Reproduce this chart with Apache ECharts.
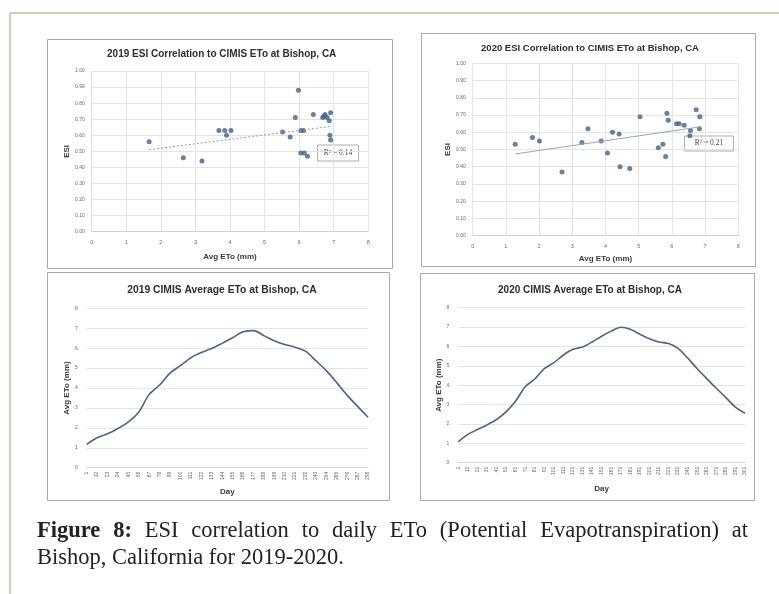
<!DOCTYPE html>
<html>
<head>
<meta charset="utf-8">
<script src="https://cdn.jsdelivr.net/npm/echarts@6/dist/echarts.min.js"></script>
<style>
  body { margin: 0; background: #fff; }
  #wrap { position: relative; width: 779px; height: 594px; overflow: hidden; }
  #chart { position: absolute; left: 0; top: 0; width: 779px; height: 594px; }
  #caption {
    position: absolute; left: 37px; top: 516px; width: 711px;
    font-family: "Liberation Serif", serif; font-size: 22.5px; line-height: 27px;
    color: #222; text-align: justify;
  }
</style>
</head>
<body>
<div id="wrap">
  <div id="chart"></div>
  <div id="caption"><b>Figure 8:</b> ESI correlation to daily ETo (Potential Evapotranspiration) at Bishop, California for 2019-2020.</div>
</div>
<script>
// ESI vs average ETo scatter points [ETo mm, ESI]
const esi2019 = [
  [1.66, 0.56], [2.65, 0.46], [3.19, 0.44], [3.68, 0.63], [3.85, 0.63],
  [3.90, 0.60], [4.03, 0.63], [5.52, 0.62], [5.74, 0.59], [5.89, 0.71],
  [5.98, 0.88], [6.05, 0.63], [6.13, 0.63], [6.05, 0.49], [6.15, 0.49],
  [6.24, 0.47], [6.41, 0.73], [6.68, 0.71], [6.75, 0.73], [6.81, 0.71],
  [6.87, 0.69], [6.91, 0.74], [6.89, 0.60], [6.91, 0.57], [6.72, 0.72]
];
const esi2020 = [
  [1.28, 0.53], [1.80, 0.57], [2.01, 0.55], [2.69, 0.37], [3.29, 0.54],
  [3.47, 0.62], [3.87, 0.55], [4.06, 0.48], [4.21, 0.60], [4.41, 0.59],
  [4.44, 0.40], [4.73, 0.39], [5.04, 0.69], [5.59, 0.51], [5.73, 0.53],
  [5.81, 0.46], [5.85, 0.71], [5.89, 0.67], [6.14, 0.65], [6.22, 0.65],
  [6.37, 0.64], [6.56, 0.61], [6.54, 0.58], [6.73, 0.73], [6.84, 0.69],
  [6.83, 0.62]
];
// linear trendline end points as drawn in the picture
const trend2019 = [[1.66, 0.51], [6.91, 0.655]];
const trend2020 = [[1.28, 0.474], [6.84, 0.631]];
const r2019 = 'R² = 0.14';
const r2020 = 'R² = 0.21';

// daily average ETo (mm), read at each labelled day
const days2019 = [1, 12, 23, 34, 45, 56, 67, 78, 89, 100, 111, 122, 133, 144,
  155, 166, 177, 188, 199, 210, 221, 232, 243, 254, 265, 276, 287, 298];
const eto2019 = [1.17, 1.50, 1.70, 1.97, 2.30, 2.80, 3.68, 4.15, 4.75, 5.12,
  5.52, 5.78, 5.98, 6.24, 6.52, 6.82, 6.88, 6.63, 6.37, 6.18, 6.05, 5.85,
  5.37, 4.87, 4.27, 3.63, 3.08, 2.53];
const days2020 = [1, 11, 21, 31, 41, 51, 61, 71, 81, 91, 101, 111, 121, 131,
  141, 151, 161, 171, 181, 191, 201, 211, 221, 231, 241, 251, 261, 271, 281,
  291, 301];
const eto2020 = [1.08, 1.46, 1.71, 1.95, 2.23, 2.62, 3.18, 3.92, 4.32, 4.85,
  5.16, 5.56, 5.85, 5.97, 6.23, 6.53, 6.79, 6.99, 6.89, 6.63, 6.40, 6.23,
  6.15, 5.90, 5.40, 4.85, 4.34, 3.84, 3.36, 2.87, 2.55];

const font = 'Liberation Sans, Arial, sans-serif';
const tickColor = '#6a6a6a';
const gridColor = '#e4e4e4';
const nameStyle = { fontFamily: font, fontSize: 8, fontWeight: 'bold', color: '#3a3a3a' };
const dotColor = '#42618a';
const lineColor = '#4a6585';

const scatterX = (gridIndex, gap) => ({
  gridIndex, type: 'value', min: 0, max: 8, interval: 1,
  name: 'Avg ETo (mm)', nameLocation: 'middle', nameGap: gap, nameTextStyle: nameStyle,
  axisLine: { lineStyle: { color: '#cfcfcf' } }, axisTick: { show: false },
  axisLabel: { fontFamily: font, fontSize: 5.5, color: tickColor, margin: 8 },
  splitLine: { lineStyle: { color: gridColor } }
});
const scatterY = (gridIndex, gap) => ({
  gridIndex, type: 'value', min: 0, max: 1, interval: 0.1,
  name: 'ESI', nameLocation: 'middle', nameGap: gap, nameTextStyle: nameStyle,
  axisLine: { show: false }, axisTick: { show: false },
  axisLabel: { fontFamily: font, fontSize: 5, color: tickColor, margin: 7,
    formatter: v => v.toFixed(2) },
  splitLine: { lineStyle: { color: gridColor } }
});
const lineX = (gridIndex, days, gap) => ({
  gridIndex, type: 'category', data: days.map(String), boundaryGap: false,
  name: 'Day', nameLocation: 'middle', nameGap: gap, nameTextStyle: nameStyle,
  axisLine: { lineStyle: { color: '#d4d4d4' } }, axisTick: { show: false },
  axisLabel: { fontFamily: font, fontSize: 5, color: tickColor, rotate: 90, interval: 0, margin: 4 },
  splitLine: { show: false }
});
const lineY = (gridIndex, gap) => ({
  gridIndex, type: 'value', min: 0, max: 8, interval: 1,
  name: 'Avg ETo (mm)', nameLocation: 'middle', nameGap: gap, nameTextStyle: nameStyle,
  axisLine: { show: false }, axisTick: { show: false },
  axisLabel: { fontFamily: font, fontSize: 5, color: tickColor, margin: 9 },
  splitLine: { lineStyle: { color: gridColor } }
});

const frame = (x, y, w, h) => ({
  type: 'rect', shape: { x, y, width: w, height: h },
  style: { fill: null, stroke: '#a9a9a9', lineWidth: 1 }, silent: true
});
const titleText = (x, y, text, size) => ({
  type: 'text', x, y,
  style: { text, fontFamily: font, fontSize: size, fontWeight: 'bold', fill: '#2e2e2e',
    align: 'center', verticalAlign: 'middle' }
});
const rBox = (x, y, w, h, text) => ({
  type: 'group', x, y, children: [
    { type: 'rect', shape: { x: 0, y: 0, width: w, height: h },
      style: { fill: '#fff', stroke: '#9a9a9a', lineWidth: 0.8 } },
    { type: 'text', x: w / 2, y: h / 2,
      style: { text, fontFamily: 'Liberation Serif, serif', fontSize: 7.5, fill: '#444',
        align: 'center', verticalAlign: 'middle' } }
  ]
});

const chart = echarts.init(document.getElementById('chart'));
chart.setOption({
  animation: false,
  grid: [
    { left: 91.7, right: 410.7, top: 71, bottom: 362.3 },
    { left: 472.7, right: 40.7, top: 63.3, bottom: 358.3 },
    { left: 86.7, right: 411, top: 308.3, bottom: 126.3 },
    { left: 458.3, right: 34, top: 307.7, bottom: 131.3 }
  ],
  xAxis: [scatterX(0, 21), scatterX(1, 19), lineX(2, days2019, 20), lineX(3, days2020, 22)],
  yAxis: [scatterY(0, 18), scatterY(1, 20), lineY(2, 16), lineY(3, 16)],
  series: [
    { type: 'scatter', xAxisIndex: 0, yAxisIndex: 0, data: esi2019,
      symbolSize: 5, itemStyle: { color: dotColor } },
    { type: 'line', xAxisIndex: 0, yAxisIndex: 0, data: trend2019, symbol: 'none',
      lineStyle: { color: '#8c9db3', width: 1, type: [2, 2] } },
    { type: 'scatter', xAxisIndex: 1, yAxisIndex: 1, data: esi2020,
      symbolSize: 5, itemStyle: { color: dotColor } },
    { type: 'line', xAxisIndex: 1, yAxisIndex: 1, data: trend2020, symbol: 'none',
      lineStyle: { color: '#95a6ba', width: 1 } },
    { type: 'line', xAxisIndex: 2, yAxisIndex: 2, data: eto2019, symbol: 'none',
      smooth: 0.3, lineStyle: { color: lineColor, width: 1.6 } },
    { type: 'line', xAxisIndex: 3, yAxisIndex: 3, data: eto2020, symbol: 'none',
      smooth: 0.3, lineStyle: { color: lineColor, width: 1.6 } }
  ],
  graphic: [
    // page border lines
    { type: 'line', shape: { x1: 10, y1: 13, x2: 779, y2: 13 },
      style: { stroke: '#a3cf95', lineWidth: 1.5 } },
    { type: 'line', shape: { x1: 10, y1: 13, x2: 10, y2: 594 },
      style: { stroke: '#a3cf95', lineWidth: 1.5 } },
    frame(47.5, 39.5, 345, 229),
    frame(421.5, 33.5, 334, 233),
    frame(47.5, 272.5, 342, 228),
    frame(420.5, 273.5, 334, 227),
    titleText(221.7, 54, '2019 ESI Correlation to CIMIS ETo at Bishop, CA', 10),
    titleText(590, 48.3, '2020 ESI Correlation to CIMIS ETo at Bishop, CA', 9.5),
    titleText(222, 290, '2019 CIMIS Average ETo at Bishop, CA', 10.3),
    titleText(590, 290, '2020 CIMIS Average ETo at Bishop, CA', 10),
    rBox(317.5, 145, 41, 16, r2019),
    rBox(684.5, 136, 49, 15, r2020)
  ]
});
</script>
</body>
</html>
